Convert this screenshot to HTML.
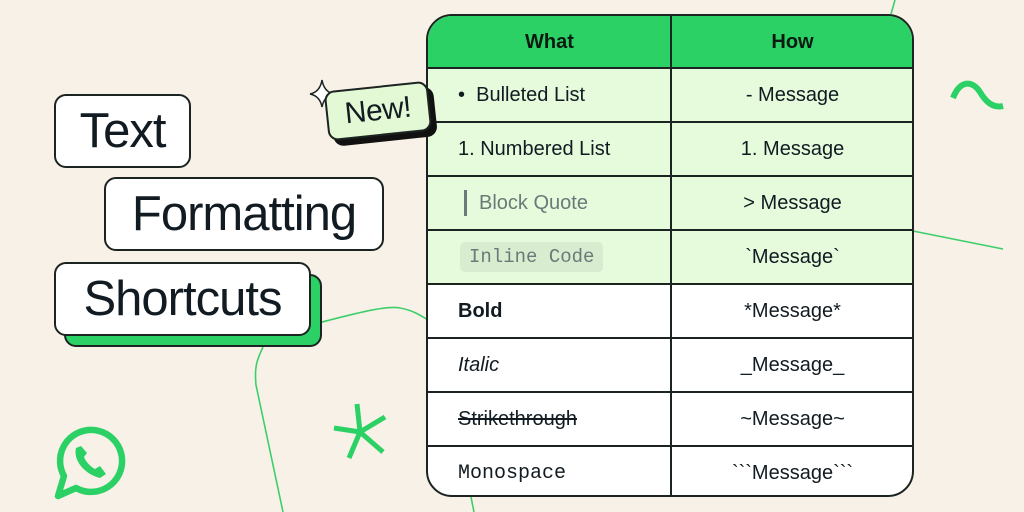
<!DOCTYPE html>
<html><head><meta charset="utf-8"><style>
*{margin:0;padding:0;box-sizing:border-box}
body{width:1024px;height:512px;overflow:hidden;background:#f8f1e8;font-family:"Liberation Sans",sans-serif;position:relative;color:#111b21}
.abs{position:absolute}
.tb{position:absolute;background:#fff;border:2px solid #1c2421;border-radius:12px;font-size:49px;line-height:1;display:flex;align-items:center;justify-content:center;letter-spacing:-1px}
.tbl{position:absolute;left:426px;top:14px;width:488px;height:483px;border:2px solid #1c2421;border-radius:26px;overflow:hidden;background:#fff}
.row{position:absolute;left:0;width:100%;height:54px;border-top:2px solid #1c2421;font-size:20px}
.row div{position:absolute;top:0;height:52px;display:flex;align-items:center}
.l{left:30px}
.r{left:243px;width:243px;justify-content:center}
.g{background:#e6fadc}
</style></head><body>
<svg class="abs" style="left:0;top:0" width="1024" height="512">
<g fill="none" stroke="#3ccf6a" stroke-width="1.6">
<path d="M318 323 C350 315 385 305 400 308 C412 310 420 315 428 320"/>
<path d="M263 347 C258 358 254 365 256 385 L283 512"/>
<path d="M913 231 L1003 249"/>
<path d="M895 0 L891 14"/>
<path d="M471 497 L474 512"/>
</g>
<path d="M953 98 C960 80 972 80 980 92 C987 104 995 108 1003 106" fill="none" stroke="#2bd165" stroke-width="6"/>
<g stroke="#2bd165" stroke-width="5"><line x1="360" y1="432" x2="357" y2="404"/><line x1="360" y1="432" x2="334" y2="428"/><line x1="360" y1="432" x2="385" y2="417"/><line x1="360" y1="432" x2="383" y2="452"/><line x1="360" y1="432" x2="349" y2="458"/></g>
<path d="M58 496 L64 476 A31 31 0 1 1 76 488 Z" fill="none" stroke="#2bd165" stroke-width="6.5" stroke-linejoin="round"/>
<path d="M76 448 C73 460 84 474 100 478 L106 474 L100 466 L95 469 C90 466 86 462 84 457 L87 453 L81 446 Z" fill="#2bd165"/>
<path d="M322 80 Q324 92 334 94 Q324 96 322 107 Q320 96 310 94 Q320 92 322 80Z" fill="#fff" stroke="#1c2421" stroke-width="1.5"/>
</svg>
<div class="tb" style="left:54px;top:94px;width:137px;height:74px">Text</div>
<div class="tb" style="left:104px;top:177px;width:280px;height:74px">Formatting</div>
<div class="abs" style="left:64px;top:274px;width:258px;height:73px;background:#2bd165;border:2px solid #1c2421;border-radius:12px"></div>
<div class="tb" style="left:54px;top:262px;width:257px;height:74px">Shortcuts</div>

<div class="tbl">
<div class="abs" style="left:0;top:0;width:100%;height:53px;background:#2bd165;font-weight:bold;font-size:20px;color:#0b1a10">
<div class="abs" style="left:0;width:243px;height:53px;display:flex;align-items:center;justify-content:center">What</div>
<div class="abs" style="left:243px;width:243px;height:53px;display:flex;align-items:center;justify-content:center">How</div>
</div>
<div class="row g" style="top:51px"><div class="l">•&nbsp;&nbsp;Bulleted List</div><div class="r">- Message</div></div>
<div class="row g" style="top:105px"><div class="l">1. Numbered List</div><div class="r">1. Message</div></div>
<div class="row g" style="top:159px"><div class="l" style="color:#6b7a78"><span style="display:inline-block;width:3px;height:26px;background:#6b7a78;margin-right:12px;margin-left:6px"></span>Block Quote</div><div class="r">&gt; Message</div></div>
<div class="row g" style="top:213px"><div class="l" style="left:32px"><span style="font-family:'Liberation Mono',monospace;font-size:19px;color:#6b7a78;background:#d8ecd0;padding:4px 9px;border-radius:5px">Inline Code</span></div><div class="r">&#96;Message&#96;</div></div>
<div class="row" style="top:267px"><div class="l" style="font-weight:bold">Bold</div><div class="r">*Message*</div></div>
<div class="row" style="top:321px"><div class="l" style="font-style:italic">Italic</div><div class="r">_Message_</div></div>
<div class="row" style="top:375px"><div class="l" style="text-decoration:line-through">Strikethrough</div><div class="r">~Message~</div></div>
<div class="row" style="top:429px"><div class="l" style="font-family:'Liberation Mono',monospace">Monospace</div><div class="r">&#96;&#96;&#96;Message&#96;&#96;&#96;</div></div>
<div class="abs" style="left:242px;top:0;width:2px;height:100%;background:#1c2421"></div>
</div>

<div class="abs" style="left:326px;top:86px;width:104px;height:50px;transform:rotate(-6deg)">
<div class="abs" style="left:5px;top:6px;width:104px;height:50px;background:#111;border-radius:10px"></div>
<div class="abs" style="left:0;top:0;width:104px;height:50px;background:#e3f9d6;border:2px solid #1c2421;border-radius:10px;font-size:30px;display:flex;align-items:center;justify-content:center;letter-spacing:-0.5px">New!</div>
</div>
</body></html>
